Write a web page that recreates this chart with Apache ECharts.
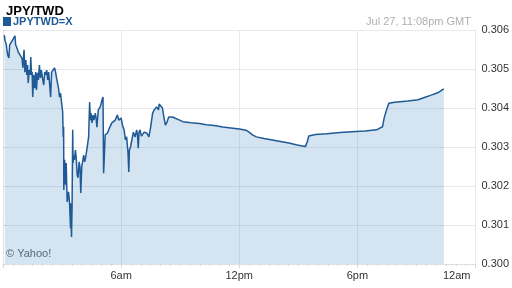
<!DOCTYPE html>
<html>
<head>
<meta charset="utf-8">
<script src="https://cdn.jsdelivr.net/npm/echarts@6/dist/echarts.min.js"></script>
<style>html,body{margin:0;padding:0;background:#fff;}#c{width:512px;height:288px;}</style>
</head>
<body>
<div id="c"></div>
<script>
// Hours since midnight
var hours = [0.07,0.10,0.17,0.20,0.24,0.30,0.34,0.40,0.47,0.54,0.61,0.64,0.71,0.77,0.84,0.91,0.97,1.01,1.04,1.07,
1.11,1.16,1.21,1.25,1.28,1.33,1.38,1.41,1.45,1.48,1.51,1.56,1.61,1.66,1.70,1.75,1.80,1.85,1.90,1.95,
2.02,2.07,2.12,2.17,2.22,2.27,2.32,2.37,2.42,2.47,2.52,2.57,2.62,2.67,2.72,2.77,2.82,2.87,2.92,2.97,
3.03,3.06,3.08,3.09,3.13,3.18,3.21,3.26,3.30,3.33,3.38,3.43,3.44,3.48,3.51,3.54,3.56,3.59,3.63,3.68,
3.72,3.77,3.81,3.87,3.91,3.95,4.00,4.05,4.10,4.15,4.20,4.27,4.35,4.40,4.44,4.47,4.52,4.57,4.62,4.69,
4.74,4.77,4.84,4.94,5.03,5.08,5.11,5.14,5.19,5.31,5.41,5.53,5.70,5.81,5.88,6.00,6.07,6.15,6.22,6.28,
6.35,6.39,6.42,6.48,6.54,6.62,6.71,6.79,6.83,6.87,6.91,6.96,7.03,7.09,7.17,7.30,7.41,7.50,7.60,7.68,
7.80,7.87,7.90,7.93,8.02,8.10,8.17,8.25,8.33,8.42,8.61,8.67,8.97,9.14,9.56,9.98,10.32,10.74,11.16,11.58,
12.00,12.34,12.50,12.67,12.87,13.26,13.68,14.10,14.52,14.94,15.36,15.46,15.53,15.87,16.45,17.13,17.71,18.39,18.97,19.28,
19.36,19.48,19.60,19.90,20.57,21.08,21.41,21.75,22.08,22.39];
var rates = [0.30587,0.30574,0.30562,0.30549,0.30536,0.30528,0.30562,0.30566,0.30573,0.30579,0.30585,0.30562,0.30554,0.30544,0.30538,0.30532,0.30526,0.30503,0.30531,0.30549,
0.30492,0.30523,0.30485,0.30510,0.30464,0.30497,0.30485,0.30531,0.30485,0.30492,0.30428,0.30485,0.30451,0.30492,0.30446,0.30490,0.30472,0.30510,0.30477,0.30497,
0.30472,0.30459,0.30492,0.30485,0.30497,0.30472,0.30492,0.30497,0.30428,0.30492,0.30492,0.30497,0.30503,0.30492,0.30477,0.30464,0.30451,0.30428,0.30438,0.30438,
0.30390,0.30326,0.30351,0.30190,0.30267,0.30203,0.30259,0.30159,0.30159,0.30185,0.30156,0.30092,0.30156,0.30069,0.30151,0.30344,0.30259,0.30279,0.30267,0.30292,
0.30272,0.30228,0.30221,0.30262,0.30249,0.30182,0.30249,0.30246,0.30279,0.30262,0.30274,0.30297,0.30326,0.30415,0.30369,0.30387,0.30362,0.30382,0.30369,0.30387,
0.30369,0.30351,0.30395,0.30403,0.30421,0.30428,0.30233,0.30267,0.30331,0.30336,0.30349,0.30362,0.30369,0.30382,0.30369,0.30374,0.30356,0.30344,0.30318,0.30326,
0.30285,0.30236,0.30292,0.30300,0.30297,0.30338,0.30326,0.30344,0.30331,0.30297,0.30338,0.30344,0.30328,0.30331,0.30338,0.30336,0.30326,0.30351,0.30387,0.30395,
0.30403,0.30405,0.30395,0.30410,0.30408,0.30400,0.30377,0.30356,0.30364,0.30377,0.30377,0.30372,0.30369,0.30365,0.30362,0.30360,0.30357,0.30355,0.30351,0.30349,
0.30346,0.30343,0.30338,0.30331,0.30326,0.30322,0.30318,0.30314,0.30310,0.30305,0.30301,0.30314,0.30328,0.30332,0.30334,0.30337,0.30339,0.30341,0.30344,0.30352,
0.30374,0.30395,0.30412,0.30415,0.30418,0.30421,0.30427,0.30433,0.30439,0.30449];
var xTickLabels = {0:'', 6:'6am', 12:'12pm', 18:'6pm', 24:'12am'};
var seriesName = 'JPYTWD=X';
var titleText = 'JPY/TWD';
var stampText = 'Jul 27, 11:08pm GMT';

var data = hours.map(function(h, i){ return [h, rates[i]]; });
var FONT = '"Liberation Sans", Arial, sans-serif';
var chart = echarts.init(document.getElementById('c'), null, {renderer:'canvas'});
chart.setOption({
  animation: false,
  backgroundColor: '#fff',
  title: [
    {text: titleText, left: 1, top: 0, textStyle: {fontFamily: FONT, fontSize: 13, fontWeight: 'bold', color: '#000'}},
    {text: stampText, right: 36, top: 11, textStyle: {fontFamily: FONT, fontSize: 11, fontWeight: 'normal', color: '#b0b0b0'}}
  ],
  legend: {
    data: [seriesName], left: -2, top: 11, icon: 'rect', itemWidth: 8, itemHeight: 9, itemGap: 2,
    textStyle: {fontFamily: FONT, fontSize: 11, fontWeight: 'bold', color: '#1f5a96', padding: [0,0,0,-3]}
  },
  graphic: [{type: 'text', left: 6, top: 248, style: {text: '© Yahoo!', fontFamily: FONT, fontSize: 11, fill: '#666'}}],
  grid: {left: 2, right: 34, top: 30, bottom: 24, containLabel: false},
  xAxis: {
    type: 'value', min: 0, max: 24, interval: 6,
    axisLine: {show: true, lineStyle: {color: '#e0e0e0'}},
    axisTick: {show: true, length: 4, lineStyle: {color: '#d8d8d8'}},
    minorTick: {show: true, splitNumber: 12, length: 2, lineStyle: {color: '#d8d8d8'}},
    splitLine: {show: true, lineStyle: {color: '#e6eaf0'}},
    axisLabel: {
      formatter: function(v){ var t = xTickLabels[v] || ''; return v === 24 ? '{last|' + t + '}' : t; },
      fontFamily: FONT, fontSize: 11, color: '#333', margin: 6, alignMaxLabel: 'right',
      rich: {last: {fontFamily: FONT, fontSize: 11, color: '#333', padding: [0, 5, 0, 0]}}
    }
  },
  yAxis: {
    type: 'value', position: 'right', min: 0.300, max: 0.306, interval: 0.001,
    axisLine: {show: true, lineStyle: {color: '#e0e0e0'}},
    axisTick: {show: true, length: 3, lineStyle: {color: '#d8d8d8'}},
    splitLine: {show: true, lineStyle: {color: '#e6eaf0'}},
    axisLabel: {formatter: function(v){ return v.toFixed(3); }, fontFamily: FONT, fontSize: 11, color: '#333', margin: 6}
  },
  series: [{
    name: seriesName, type: 'line', data: data, symbol: 'none', showSymbol: false,
    lineStyle: {color: '#1f5a96', width: 1.5}, itemStyle: {color: '#1f5a96'},
    areaStyle: {color: 'rgba(40,120,180,0.2)', opacity: 1}
  }]
});
</script>
</body>
</html>
